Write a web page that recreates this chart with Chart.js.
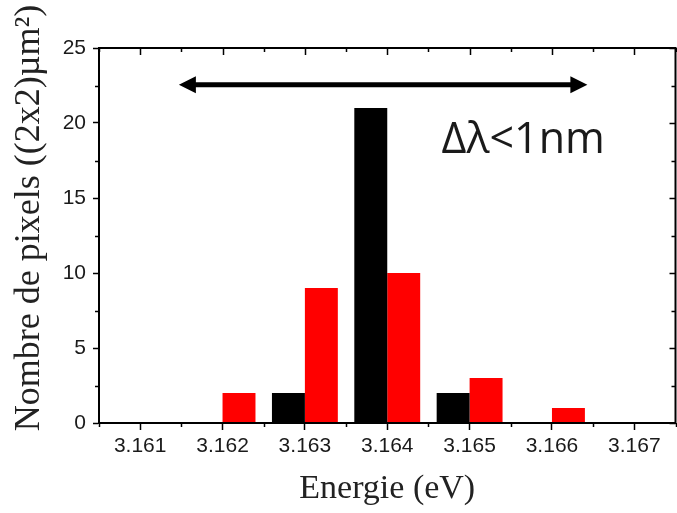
<!DOCTYPE html>
<html><head><meta charset="utf-8">
<script src="https://cdn.jsdelivr.net/npm/chart.js@4"></script>
<style>html,body{margin:0;padding:0;background:#fff;}#wrap{width:677px;height:513px;}</style>
</head><body><div id="wrap"><canvas id="c" width="677" height="513"></canvas></div>
<script>
// ---- data ----
const energies = [3.161, 3.162, 3.163, 3.164, 3.165, 3.166, 3.167];
const blackCounts = [0, 0, 2, 21, 2, 0, 0];
const redCounts = [0, 2, 9, 10, 3, 1, 0];
const xTickValues = [3.161, 3.162, 3.163, 3.164, 3.165, 3.166, 3.167];
const xTickLabels = ['3.161', '3.162', '3.163', '3.164', '3.165', '3.166', '3.167'];
const yTickValues = [0, 5, 10, 15, 20, 25];
const yTickLabels = ['0', '5', '10', '15', '20', '25'];
const xRange = [3.1605, 3.1675];
const yRange = [0, 25];
const xMinorStep = 0.0005;
const yMinorStep = 2.5;
const arrowSpan = [3.16147, 3.16643];
const arrowLevel = 22.55;
const noteText = 'Δλ<1nm';
const noteAnchor = [3.16466, 17.98];
const xTitle = 'Energie (eV)';
const yTitle = 'Nombre de pixels ((2x2)µm²)';

const INK = '#000';
const TXT = '#1a1a1a';

const framePlugin = {
  id: 'frame',
  afterDatasetsDraw(chart) {
    const {ctx, chartArea: a, scales: {x, y}} = chart;
    ctx.save();
    ctx.strokeStyle = INK;
    ctx.lineWidth = 2;
    ctx.strokeRect(a.left, a.top, a.right - a.left, a.bottom - a.top);
    ctx.lineWidth = 1.5;
    ctx.beginPath();
    for (let v = xRange[0]; v <= xRange[1] + 1e-9; v += xMinorStep) {
      const px = Math.round(x.getPixelForValue(v)) + 0.5;
      const major = xTickValues.some(t => Math.abs(t - v) < 1e-7);
      ctx.moveTo(px, a.top); ctx.lineTo(px, a.top + (major ? 7 : 4));
      if (!major) { ctx.moveTo(px, a.bottom); ctx.lineTo(px, a.bottom + 4); }
    }
    for (let v = yRange[0]; v <= yRange[1] + 1e-9; v += yMinorStep) {
      const py = Math.round(y.getPixelForValue(v)) + 0.5;
      const major = yTickValues.some(t => Math.abs(t - v) < 1e-7);
      ctx.moveTo(a.right, py); ctx.lineTo(a.right - (major ? 6 : 4), py);
      if (!major) { ctx.moveTo(a.left, py); ctx.lineTo(a.left - 4, py); }
    }
    ctx.stroke();

    // double arrow
    const x1 = x.getPixelForValue(arrowSpan[0]);
    const x2 = x.getPixelForValue(arrowSpan[1]);
    const ay = y.getPixelForValue(arrowLevel);
    const head = 17, half = 8.5;
    ctx.lineWidth = 5;
    ctx.beginPath();
    ctx.moveTo(x1 + head - 2, ay); ctx.lineTo(x2 - head + 2, ay);
    ctx.stroke();
    ctx.fillStyle = INK;
    ctx.beginPath();
    ctx.moveTo(x1, ay); ctx.lineTo(x1 + head, ay - half); ctx.lineTo(x1 + head, ay + half); ctx.closePath();
    ctx.moveTo(x2, ay); ctx.lineTo(x2 - head, ay - half); ctx.lineTo(x2 - head, ay + half); ctx.closePath();
    ctx.fill();

    // note text
    ctx.fillStyle = '#1a1a1a';
    ctx.font = '43px "Open Sans"';
    ctx.textAlign = 'left';
    ctx.textBaseline = 'alphabetic';
    ctx.fillText(noteText, x.getPixelForValue(noteAnchor[0]), y.getPixelForValue(noteAnchor[1]));

    // y axis title
    ctx.save();
    ctx.translate(38.5, 218);
    ctx.rotate(-Math.PI / 2);
    ctx.font = '36px "Liberation Serif"';
    ctx.fillStyle = '#222';
    ctx.textAlign = 'center';
    ctx.fillText(yTitle, 0, 0);
    ctx.restore();
    ctx.restore();
  }
};

new Chart(document.getElementById('c'), {
  type: 'bar',
  data: {
    datasets: [
      { data: energies.map((e, i) => ({x: e, y: blackCounts[i]})), backgroundColor: '#000', borderWidth: 0 },
      { data: energies.map((e, i) => ({x: e, y: redCounts[i]})), backgroundColor: '#ff0000', borderWidth: 0 }
    ]
  },
  options: {
    responsive: false,
    animation: false,
    devicePixelRatio: 1,
    categoryPercentage: 0.8,
    barPercentage: 1,
    layout: { padding: { top: 48, right: 1.5, left: 0, bottom: 0 } },
    plugins: { legend: { display: false }, tooltip: { enabled: false } },
    scales: {
      x: {
        type: 'linear', min: xRange[0], max: xRange[1], offset: false,
        afterBuildTicks: s => { s.ticks = xTickValues.map(v => ({value: v})); },
        afterFit: s => { s.height = 90; },
        ticks: { callback: (v, i) => xTickLabels[i], autoSkip: false, maxRotation: 0,
                 font: { family: 'Liberation Sans', size: 21 }, color: TXT, padding: 4 },
        grid: { display: true, offset: false, drawOnChartArea: false, tickLength: 7, tickWidth: 1.5, tickColor: INK },
        border: { display: true, color: INK, width: 2 },
        title: { display: true, text: xTitle, color: '#222',
                 font: { family: 'Liberation Serif', size: 34 }, padding: { top: 0, bottom: 4 } }
      },
      y: {
        min: yRange[0], max: yRange[1],
        afterBuildTicks: s => { s.ticks = yTickValues.map(v => ({value: v})); },
        afterFit: s => { s.width = 99; },
        ticks: { callback: (v, i) => yTickLabels[i],
                 font: { family: 'Liberation Sans', size: 21 }, color: TXT, padding: 7 },
        grid: { display: true, drawOnChartArea: false, tickLength: 6, tickWidth: 1.5, tickColor: INK },
        border: { display: true, color: INK, width: 2 }
      }
    }
  },
  plugins: [framePlugin]
});
</script></body></html>
